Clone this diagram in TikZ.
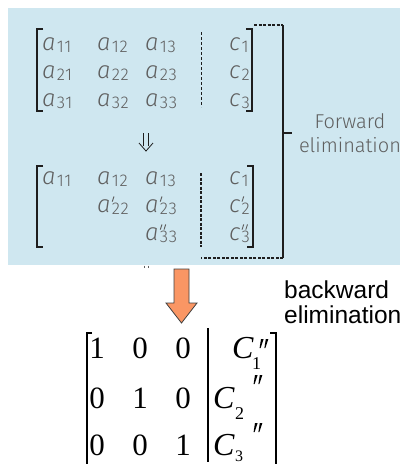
\documentclass[tikz,border=0pt]{standalone}
\usepackage{fontspec}
\usepackage{graphicx}
\setmainfont{Liberation Serif}
\newfontfamily\lightsans{Fira Sans Light}[ItalicFont={Fira Sans Light Italic}]
\newfontfamily\plainsans{Liberation Sans}

\definecolor{boxblue}{RGB}{207,231,240}
\definecolor{inkgray}{RGB}{95,95,95}
\definecolor{inkdark}{RGB}{30,30,30}
\definecolor{arroworange}{RGB}{250,150,100}

% a small slanted prime stroke
\newcommand\pmark{\rotatebox{-18}{\rule{0.9pt}{5.5pt}}}
% entry of the light matrices: letter, primes, subscript
\newcommand\elt[3]{%
  {\fontsize{24}{24}\selectfont\itshape #1}\kern1.2pt%
  \makebox[0pt][l]{\raisebox{10.5pt}{#2}}%
  \raisebox{-2.5pt}{\fontsize{17}{17}\selectfont\addfontfeature{LetterSpace=4} #3}}

\tikzset{
  entry/.style={inner sep=0pt, anchor=base west, text=inkgray, font=\lightsans},
  brk/.style={draw=inkdark, line width=1.8pt},
  dashsep/.style={draw=inkdark, dash pattern=on 3pt off 2pt},
  frame/.style={draw=inkdark, line width=1.5pt},
  fwdlabel/.style={inner sep=0pt, align=center, text=inkgray,
    font=\lightsans\fontsize{20}{24}\selectfont},
  bwdlabel/.style={inner sep=0pt, align=left, anchor=north west, text=black,
    font=\plainsans\fontsize{24.5}{25}\selectfont},
  num/.style={inner sep=0pt, anchor=base, font=\fontsize{31}{31}\selectfont},
  cc/.style={inner sep=0pt, anchor=base west, font=\fontsize{32}{32}\selectfont\itshape},
  csub/.style={inner sep=0pt, anchor=base west, font=\fontsize{18}{18}\selectfont},
  blockarrow/.style={draw=black!75, line width=0.8pt, fill=arroworange},
  dprime/.pic={
    \fill (0,0) -- (2.6,0) -- (-0.4,9) -- (-1.4,9) -- cycle;
    \fill (4.8,0) -- (7.4,0) -- (4.4,9) -- (3.4,9) -- cycle;
  },
}

\begin{document}
\begin{tikzpicture}[x=1pt, y=-1pt]
\useasboundingbox (0,0) rectangle (405,464);

% light blue panel
\fill[boxblue] (8,8) rectangle (400,265);

% ---- original system ----
\draw[brk] (43,29) -- (37,29) -- (37,111) -- (43,111);
\draw[brk] (246,29) -- (252,29) -- (252,111) -- (246,111);
\draw[dashsep, line width=1pt] (201,32) -- (201,107);

\node[entry] (a11) at (42,50)  {\elt{a}{}{11}};
\node[entry] (a12) at (97,50)  {\elt{a}{}{12}};
\node[entry] (a13) at (145,50) {\elt{a}{}{13}};
\node[entry] (c1)  at (229,50) {\elt{c}{}{1}};
\node[entry] (a21) at (42,78)  {\elt{a}{}{21}};
\node[entry] (a22) at (97,78)  {\elt{a}{}{22}};
\node[entry] (a23) at (145,78) {\elt{a}{}{23}};
\node[entry] (c2)  at (229,78) {\elt{c}{}{2}};
\node[entry] (a31) at (42,106) {\elt{a}{}{31}};
\node[entry] (a32) at (97,106) {\elt{a}{}{32}};
\node[entry] (a33) at (145,106){\elt{a}{}{33}};
\node[entry] (c3)  at (229,106){\elt{c}{}{3}};

% implication arrow between the two systems
\draw[inkdark, line width=0.8pt] (143.5,133) -- (143.5,146) (148.5,133) -- (148.5,146);
\draw[inkdark, line width=0.8pt] (139,143) -- (146,151) -- (153,143);

% ---- upper triangular system ----
\draw[brk] (43,166) -- (37,166) -- (37,247) -- (43,247);
\draw[brk] (247,166) -- (253,166) -- (253,247) -- (247,247);
\draw[dashsep, line width=1.8pt, dash pattern=on 3pt off 1.5pt] (201,173) -- (201,247);

\node[entry] (b11) at (42,184)  {\elt{a}{}{11}};
\node[entry] (b12) at (97,184)  {\elt{a}{}{12}};
\node[entry] (b13) at (145,184) {\elt{a}{}{13}};
\node[entry] (d1)  at (229,184) {\elt{c}{}{1}};
\node[entry] (b22) at (97,212)  {\elt{a}{\pmark}{22}};
\node[entry] (b23) at (145,212) {\elt{a}{\pmark}{23}};
\node[entry] (d2)  at (229,212) {\elt{c}{\pmark}{2}};
\node[entry] (b33) at (145,240) {\elt{a}{\pmark\kern1.2pt\pmark}{33}};
\node[entry] (d3)  at (229,240) {\elt{c}{\pmark\kern1.2pt\pmark}{3}};

% bracket marking the forward elimination stage
\draw[frame, dash pattern=on 3pt off 1.5pt] (254,25) -- (283,25);
\draw[frame] (283,25) -- (283,258);
\draw[frame, dash pattern=on 3pt off 1.5pt] (283,258) -- (201,258);
\node[fwdlabel] (fwd) at (350,133) {Forward\\elimination};
\draw[frame] (283,133) -- (292,133);

% stub of an arrow cut by the panel edge
\draw[inkgray, line width=0.6pt] (144,265.5) -- (144,268) (148,265.5) -- (148,268);

% ---- backward elimination ----
\draw[blockarrow] (174,269) -- (189,269) -- (189,303) -- (197,303)
  -- (181.5,323) -- (166,303) -- (174,303) -- cycle;
\node[bwdlabel] (bwd) at (284,281) {backward\\elimination};

% identity system
\draw[black, line width=1.1pt] (92,333) -- (87,333) -- (87,470);
\draw[black, line width=1.1pt] (270,333) -- (276,333) -- (276,470);
\draw[black, line width=2pt] (208,328) -- (208,462);

\node[num] (e11) at (97,358)  {1};
\node[num] (e12) at (140,358) {0};
\node[num] (e13) at (183,358) {0};
\node[num] (e21) at (97,408)  {0};
\node[num] (e22) at (140,408) {1};
\node[num] (e23) at (183,408) {0};
\node[num] (e31) at (97,455)  {0};
\node[num] (e32) at (140,455) {0};
\node[num] (e33) at (183,455) {1};

\node[cc] (C1) at (232,358) {C};
\node[csub] (S1) at (252,369) {1};
\pic at (261,339) {dprime};
\node[cc] (C2) at (213,408) {C};
\node[csub] (S2) at (235,419) {2};
\pic at (255,375) {dprime};
\node[cc] (C3) at (213,455) {C};
\node[csub, font=\fontsize{16}{16}\selectfont] (S3) at (235,461) {3};
\pic at (255,423) {dprime};
\end{tikzpicture}
\end{document}
